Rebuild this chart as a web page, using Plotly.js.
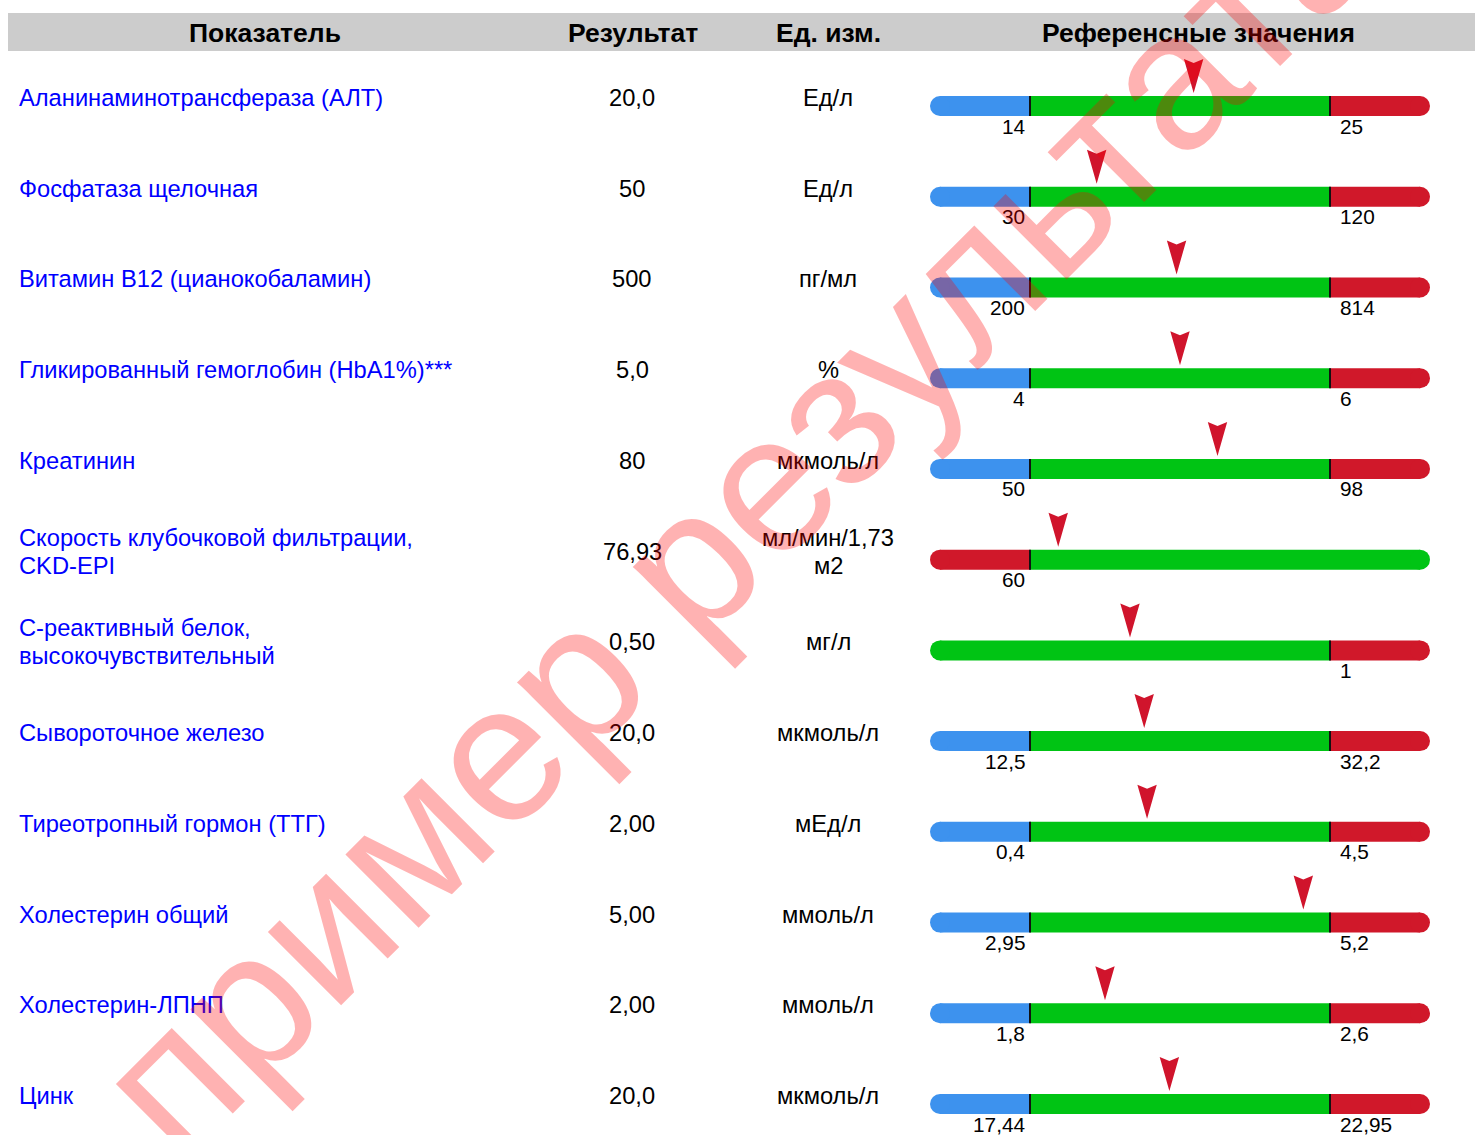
<!DOCTYPE html>
<html><head><meta charset="utf-8">
<script src="https://cdn.plot.ly/plotly-3.0.1.min.js"></script>
<style>html,body{margin:0;padding:0;background:#fff;}#chart{width:1475px;height:1135px;}</style>
</head><body><div id="chart"></div>
<script>
// ---- data ----
const headers = ["Показатель", "Результат", "Ед. изм.", "Референсные значения"];
const names = [
  "Аланинаминотрансфераза (АЛТ)",
  "Фосфатаза щелочная",
  "Витамин B12 (цианокобаламин)",
  "Гликированный гемоглобин (HbA1%)***",
  "Креатинин",
  "Скорость клубочковой фильтрации,<br>CKD-EPI",
  "С-реактивный белок,<br>высокочувствительный",
  "Сывороточное железо",
  "Тиреотропный гормон (ТТГ)",
  "Холестерин общий",
  "Холестерин-ЛПНП",
  "Цинк"
];
const resultLabels = ["20,0","50","500","5,0","80","76,93","0,50","20,0","2,00","5,00","2,00","20,0"];
const resultValues = [20, 50, 500, 5, 80, 76.93, 0.5, 20, 2, 5, 2, 20];
const units = ["Ед/л","Ед/л","пг/мл","%","мкмоль/л","мл/мин/1,73<br>м2","мг/л","мкмоль/л","мЕд/л","ммоль/л","ммоль/л","мкмоль/л"];
const refLow  = [14, 30, 200, 4, 50, 60, null, 12.5, 0.4, 2.95, 1.8, 17.44];
const refHigh = [25, 120, 814, 6, 98, null, 1, 32.2, 4.5, 5.2, 2.6, 22.95];
const refLowLabels  = ["14","30","200","4","50","60","","12,5","0,4","2,95","1,8","17,44"];
const refHighLabels = ["25","120","814","6","98","","1","32,2","4,5","5,2","2,6","22,95"];
const watermark = "пример результата";

// ---- style ----
const W = 1475, H = 1135;
const BLUE = "#3d92ee", GREEN = "#00c414", RED = "#d0182a", MARK = "#d0142c";
const FONT = "Liberation Sans, Arial, sans-serif";
const TXT = 23.7, HDR = 26.5, TICK = 20.8, LINE_H = 28;
const barX0 = 930, barX1 = 1430;
const pxX = 1 / (barX1 - barX0);
const rowStep = 90.73, firstRow = 106;
const pxY = 1 / rowStep;
const yTop = -firstRow / rowStep, yBot = (H - firstRow) / rowStep;
const LOWF = 0.2, HIGHF = 0.8;

function pos(i) {
  const v = resultValues[i], lo = refLow[i], hi = refHigh[i];
  let p;
  if (lo != null && hi != null) p = LOWF + (HIGHF - LOWF) * (v - lo) / (hi - lo);
  else if (lo != null) p = LOWF * v / lo;
  else p = HIGHF * v / hi;
  return Math.max(0, Math.min(1, p));
}

const shapes = [];
const annotations = [];

// header band
shapes.push({type: "rect", xref: "paper", yref: "paper", x0: 8 / W, x1: 1, y0: 1 - 51 / H, y1: 1 - 13 / H,
  fillcolor: "#cccccc", line: {width: 0}, layer: "below"});
const headerX = [265, 633, 828, 1198];
headers.forEach((h, k) => annotations.push({xref: "paper", yref: "paper", x: headerX[k] / W, y: 1 - 33 / H,
  text: "<b>" + h + "</b>", showarrow: false, xanchor: "center", yanchor: "middle",
  font: {family: FONT, size: HDR, color: "#000"}}));

// multi-line text helper: one annotation per line, tight line spacing
function addLines(text, xPaper, i, anchor, color) {
  const lines = text.split("<br>");
  lines.forEach((ln, k) => {
    const off = ((lines.length - 1) / 2 - k) * LINE_H;
    annotations.push({xref: "paper", yref: "y", x: xPaper, y: i, yshift: 8 + off, text: ln, showarrow: false,
      xanchor: anchor, yanchor: "middle", font: {family: FONT, size: TXT, color: color}});
  });
}

const hb = 10 * pxY; // half bar height
names.forEach((nm, i) => {
  const lo = refLow[i], hi = refHigh[i];
  const segs = [];
  if (lo != null && hi != null) segs.push([0, LOWF, BLUE], [LOWF, HIGHF, GREEN], [HIGHF, 1, RED]);
  else if (lo != null) segs.push([0, LOWF, RED], [LOWF, 1, GREEN]);
  else segs.push([0, HIGHF, GREEN], [HIGHF, 1, RED]);
  const r = 10 * pxX;
  segs.forEach((s, k) => {
    const a = k === 0 ? s[0] + r : s[0];
    const b = k === segs.length - 1 ? s[1] - r : s[1];
    shapes.push({type: "rect", xref: "x", yref: "y", x0: a, x1: b, y0: i - hb, y1: i + hb,
      fillcolor: s[2], line: {width: 0}});
    if (k === 0) shapes.push({type: "circle", xref: "x", yref: "y", x0: s[0], x1: s[0] + 2 * r, y0: i - hb, y1: i + hb,
      fillcolor: s[2], line: {width: 0}});
    if (k === segs.length - 1) shapes.push({type: "circle", xref: "x", yref: "y", x0: s[1] - 2 * r, x1: s[1], y0: i - hb, y1: i + hb,
      fillcolor: s[2], line: {width: 0}});
  });
  segs.slice(1).forEach(s => shapes.push({type: "line", xref: "x", yref: "y", x0: s[0], x1: s[0], y0: i - hb, y1: i + hb,
    line: {color: "#111", width: 2}}));

  // marker
  const x = pos(i), dx = 9.7 * pxX;
  const yTip = i - 13 * pxY, yT = i - 47 * pxY, yN = i - 43 * pxY;
  shapes.push({type: "path", xref: "x", yref: "y",
    path: `M${x - dx},${yT} L${x},${yN} L${x + dx},${yT} L${x},${yTip} Z`,
    fillcolor: MARK, line: {width: 0}});

  // texts
  addLines(nm, 17 / W, i, "left", "#0000ff");
  addLines(resultLabels[i], 632 / W, i, "center", "#000");
  addLines(units[i], 828 / W, i, "center", "#000");
  if (refLowLabels[i]) annotations.push({xref: "x", yref: "y", x: LOWF, y: i, xshift: -3, yshift: -20,
    text: refLowLabels[i], showarrow: false, xanchor: "right", yanchor: "middle", font: {family: FONT, size: TICK, color: "#000"}});
  if (refHighLabels[i]) annotations.push({xref: "x", yref: "y", x: HIGHF, y: i, xshift: 8, yshift: -20,
    text: refHighLabels[i], showarrow: false, xanchor: "left", yanchor: "middle", font: {family: FONT, size: TICK, color: "#000"}});
});

// watermark
annotations.push({xref: "paper", yref: "paper", x: 738 / W, y: 1 - 512 / H, text: watermark, showarrow: false,
  textangle: -45, xanchor: "center", yanchor: "middle", font: {family: FONT, size: 196, color: "rgba(255,0,0,0.3)"}});

const layout = {
  width: W, height: H, margin: {l: 0, r: 0, t: 0, b: 0}, paper_bgcolor: "#fff", plot_bgcolor: "rgba(0,0,0,0)",
  showlegend: false,
  xaxis: {domain: [barX0 / W, barX1 / W], range: [0, 1], visible: false, fixedrange: true},
  yaxis: {domain: [0, 1], range: [yBot, yTop], visible: false, fixedrange: true},
  shapes, annotations
};
Plotly.newPlot("chart", [{x: [], y: [], type: "scatter"}], layout, {displayModeBar: false, staticPlot: true});
</script></body></html>
